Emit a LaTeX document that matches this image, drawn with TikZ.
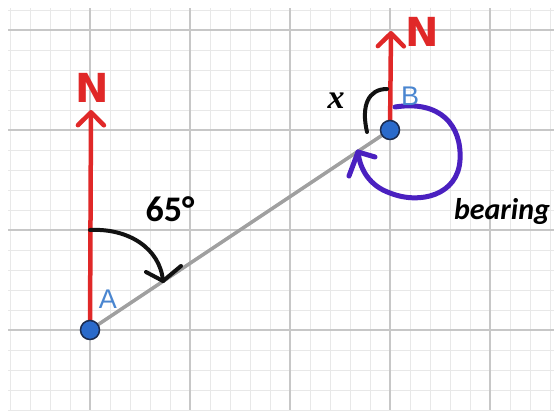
\documentclass[tikz,border=0pt]{standalone}
\usepackage{fontspec}
\setmainfont{Carlito}
\newfontfamily\nfont{DejaVu Sans}
\newfontfamily\labfont{Liberation Sans}
\newfontfamily\xfont{Liberation Serif}
\usetikzlibrary{arrows.meta}
\definecolor{redN}{HTML}{E02828}
\definecolor{dotblue}{HTML}{2A6ACB}
\definecolor{dotedge}{HTML}{1B2B4F}
\definecolor{labblue}{HTML}{4A86D0}
\definecolor{purp}{HTML}{4A20C0}
\definecolor{segray}{HTML}{A0A0A0}
\tikzset{
  minorline/.style={draw=black!9, line width=0.9pt},
  majorline/.style={draw=black!22, line width=1.4pt},
  northarrow/.style={draw=redN, line width=4.5pt, line cap=round,
    -{Straight Barb[length=13pt,width=26pt,round]}},
  nlabel/.style={text=redN, font=\nfont\bfseries\fontsize{40}{40}\selectfont, inner sep=0pt},
  dot/.style={circle, fill=dotblue, draw=dotedge, line width=1.5pt, minimum size=19pt, inner sep=0pt},
  ptlabel/.style={text=labblue, font=\labfont\fontsize{27}{27}\selectfont, inner sep=0pt},
  segment/.style={draw=segray, line width=3.5pt},
  blackarc/.style={draw=black!93, line width=4pt, line cap=round, line join=round},
  purparc/.style={draw=purp, line width=5pt, line cap=round, line join=round},
}
\begin{document}
\begin{tikzpicture}[x=1pt,y=-1pt]
\useasboundingbox (0,0) rectangle (554,410);
\fill[white] (0,0) rectangle (554,410);
% grid
\begin{scope}
\clip (8,8) rectangle (554,410);
\foreach \v in {10,30,...,550} \draw[minorline] (\v,8) -- (\v,410);
\foreach \v in {10,30,...,410} \draw[minorline] (8,\v) -- (554,\v);
\foreach \v in {90,190,290,390,490} \draw[majorline] (\v,8) -- (\v,410);
\foreach \v in {30,130,230,330} \draw[majorline] (8,\v) -- (554,\v);
\end{scope}
% points
\coordinate (A) at (90,330);
\coordinate (B) at (390,130);
\coordinate (NA) at (91,110);
\coordinate (NB) at (391,31);
% segment and north arrows
\draw[segment] (A) -- (B);
\draw[northarrow] (A) -- (NA);
\draw[northarrow] (B) -- (NB);
\node[nlabel] (labNA) at (92,88) {N};
\node[nlabel] (labNB) at (422,32) {N};
% angle at A
\coordinate (a1) at (90,230);
\coordinate (a2) at (163,281);
\draw[blackarc] (a1) .. controls (128,228) and (160,248) .. (a2);
\draw[blackarc] (146,272) -- (a2) -- (181,266);
\node[inner sep=0pt, font=\bfseries\fontsize{36}{36}\selectfont] (ang) at (170,209) {65°};
% angle x at B
\coordinate (b1) at (367,132);
\coordinate (b2) at (387,89);
\draw[blackarc] (b1) .. controls (361,106) and (368,89) .. (b2);
\node[inner sep=0pt, font=\xfont\bfseries\itshape\fontsize{34}{34}\selectfont] (xlab) at (336,101) {x};
% bearing arc
\coordinate (p1) at (395,107);
\coordinate (p2) at (358,152);
\draw[purparc] (p1) .. controls (440,100) and (462,125) .. (460,160)
  .. controls (458,195) and (420,205) .. (390,193)
  .. controls (370,186) and (360,170) .. (p2);
\draw[purparc] (349,176) -- (p2) -- (375,157);
\node[inner sep=0pt, font=\bfseries\itshape\fontsize{30}{30}\selectfont] (bear) at (502,211) {bearing};
% dots and labels
\node[dot] (dotA) at (A) {};
\node[dot] (dotB) at (B) {};
\node[ptlabel] (labA) at (108,299) {A};
\node[ptlabel] (labB) at (410,96) {B};
\end{tikzpicture}
\end{document}
